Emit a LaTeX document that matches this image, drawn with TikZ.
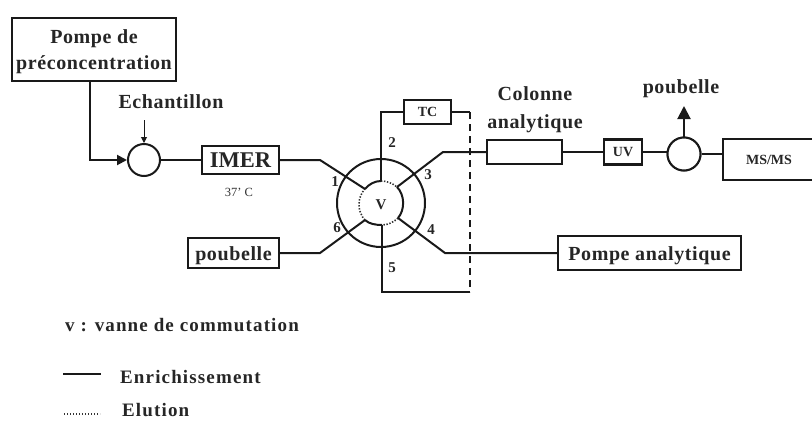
\documentclass[tikz,border=0pt]{standalone}
\usepackage{fontspec}
\setmainfont{Liberation Serif}
\newfontfamily\spa[LetterSpace=3]{Liberation Serif}
\newfontfamily\spb[LetterSpace=6]{Liberation Serif}
\usetikzlibrary{arrows.meta}
\tikzset{
  pipe/.style={line width=2pt,draw=black!90},
  boxn/.style={draw=black!90,line width=2.2pt,fill=white,inner sep=0pt,minimum width=#1},
  ring/.style={draw=black!90,line width=2pt,circle,inner sep=0pt,minimum size=#1},
  lab/.style={font=\spa\bfseries\fontsize{20}{22}\selectfont,align=center,text=black!85,inner sep=0pt},
  leg/.style={font=\spb\bfseries\fontsize{19}{21}\selectfont,anchor=west,text=black!85,inner sep=0pt},
  sm/.style={font=\bfseries\fontsize{15}{17}\selectfont,text=black!85,inner sep=0pt},
  tiny/.style={font=\bfseries\fontsize{14}{16}\selectfont,text=black!85,inner sep=0pt},
  dots/.style={line width=1.6pt,dash pattern=on 1.4pt off 1.6pt,draw=black!80},
  tip/.style={-{Triangle[length=#1,width=#1]}}
}
\begin{document}
\begin{tikzpicture}[x=1pt,y=-1pt]
\useasboundingbox (0,0) rectangle (812,421);
% boxes
\node[boxn=164pt,minimum height=63pt] (pre) at (94,49.5) {};
\node[lab] (pret) at (94,51.5) {Pompe de\\[4pt]préconcentration};
\node[boxn=77pt,minimum height=28pt,font=\bfseries\fontsize{22.5}{24}\selectfont,text=black!85] (imer) at (240.5,160) {IMER};
\node[boxn=91pt,minimum height=30pt,lab,text height=14pt,text depth=0pt] (pb) at (233.5,253) {poubelle};
\node[boxn=47pt,minimum height=24pt,tiny] (tc) at (427.5,112) {TC};
\node[boxn=75pt,minimum height=24pt] (col) at (524.5,152) {};
\node[boxn=38pt,minimum height=25pt,tiny] (uv) at (623,152) {UV};
\node[boxn=92pt,minimum height=41pt,tiny] (ms) at (769,159.5) {MS/MS};
\node[boxn=183pt,minimum height=34pt,lab,text height=14pt,text depth=0pt] (pa) at (649.5,253) {Pompe analytique};
% mixing circles
\node[ring=32pt] (mix) at (144,160) {};
\node[ring=33pt] (spl) at (684,154) {};
% valve
\node[ring=88pt] (outer) at (381,203) {};
\coordinate (p1) at (365,189);
\coordinate (p2) at (381,181);
\coordinate (p3) at (397,187);
\coordinate (p4) at (398,218);
\coordinate (p5) at (382,225);
\coordinate (p6) at (365,220);
\coordinate (k1) at (320,160);
\coordinate (k2) at (381,112);
\coordinate (k3) at (443,152);
\coordinate (k4) at (445,253);
\coordinate (k5) at (382,292);
\coordinate (k6) at (320,253);
\coordinate (k7) at (470,112);
\coordinate (k8) at (470,292);
% inner ring: solid and dotted arcs
\draw[pipe] (p1) .. controls (369,184) and (375,181) .. (p2);
\draw[pipe] (p3) .. controls (405,195) and (405,210) .. (p4);
\draw[pipe] (p5) .. controls (376,225) and (369,224) .. (p6);
\draw[dots] (p2) .. controls (387,181) and (392,183) .. (p3);
\draw[dots] (p4) .. controls (394,222) and (388,225) .. (p5);
\draw[dots] (p6) .. controls (357,212) and (357,197) .. (p1);
% connectors
\draw[pipe] (imer.east) -- (k1) -- (p1);
\draw[pipe] (p2) -- (k2) -- (tc.west);
\draw[pipe] (tc.east) -- (k7);
\draw[pipe,dash pattern=on 7pt off 5pt] (k7) -- (k8);
\draw[pipe] (k8) -- (k5) -- (p5);
\draw[pipe] (p3) -- (k3) -- (col.west);
\draw[pipe] (p4) -- (k4) -- (pa.west);
\draw[pipe] (p6) -- (k6) -- (pb.east);
\draw[pipe] (col.east) -- (uv.west);
\draw[pipe] (uv.east) -- (spl.center |- uv.east);
\draw[pipe] (spl.east) -- (spl.east-|ms.west);
\draw[pipe] (mix.east) -- (imer.west);
\node[ring=33pt,fill=white] (splb) at (684,154) {};
\coordinate (k9) at (90,160);
\draw[pipe,tip=10pt] (pre.south-|k9) -- (k9) -- (mix.west);
\coordinate (k10) at (144,120);
\draw[line width=1pt,draw=black!90,tip=6pt] (k10) -- (mix.north);
\coordinate (k11) at (684,106);
\draw[pipe,tip=13pt] (splb.north) -- (k11);
% labels
\node[lab] (ech) at (171,102) {Echantillon};
\node[font=\fontsize{12.5}{14}\selectfont,text=black!80,inner sep=0pt] (t37) at (239,192) {37' C};
\node[lab] (colt) at (535,110) {Colonne\\[6pt]analytique};
\node[lab] (pbt) at (681,89) {poubelle};
\node[sm] (v) at (381,205) {V};
\node[sm] (n1) at (335,182) {1};
\node[sm] (n2) at (392,143) {2};
\node[sm] (n3) at (428,175) {3};
\node[sm] (n4) at (431,230) {4};
\node[sm] (n5) at (392,268) {5};
\node[sm] (n6) at (337,228) {6};
\node[leg] (lv) at (65,325) {v : vanne de commutation};
\coordinate (l1) at (63,374); \coordinate (l2) at (101,374);
\coordinate (l3) at (64,414); \coordinate (l4) at (100,414);
\draw[pipe] (l1) -- (l2);
\draw[dots] (l3) -- (l4);
\node[leg] (le) at (120,377) {Enrichissement};
\node[leg] (lf) at (122,410) {Elution};
\end{tikzpicture}
\end{document}
